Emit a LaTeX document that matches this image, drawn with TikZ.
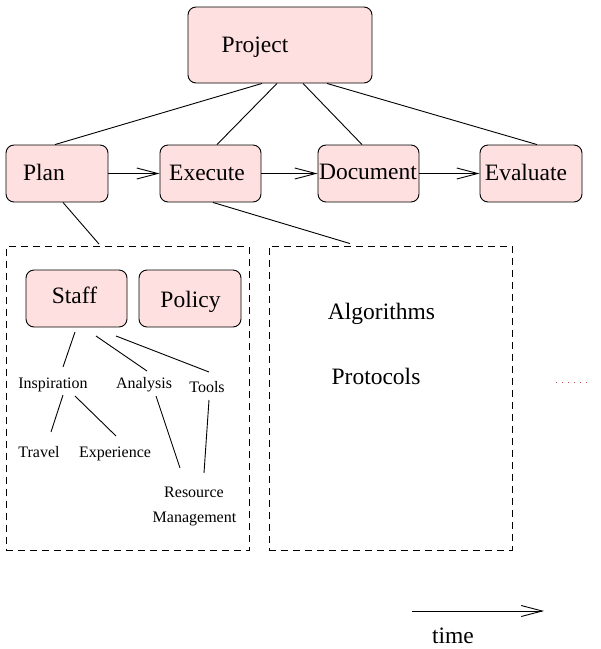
\documentclass[tikz,border=0pt]{standalone}
\usepackage{fontspec}
\setmainfont{Liberation Serif}
\usetikzlibrary{arrows.meta,calc}
\definecolor{boxpink}{RGB}{255,224,224}
\definecolor{dotred}{RGB}{190,80,80}
\tikzset{
  pbox/.style={draw,line width=0.9pt,rounded corners=8pt,fill=boxpink,inner sep=0pt,minimum width=101pt,minimum height=57pt},
  dbox/.style={draw,line width=0.9pt,dash pattern=on 7pt off 5pt,inner sep=0pt,minimum width=243pt,minimum height=304pt},
  big/.style={inner sep=0pt,anchor=base,font=\fontsize{23.5}{28}\selectfont},
  small/.style={inner sep=0pt,anchor=base,font=\fontsize{16}{19}\selectfont},
  conn/.style={line width=0.9pt},
  flow/.style={line width=0.9pt,-{Straight Barb[length=21pt,width=11pt,line width=0.9pt]}}
}
\begin{document}
\begin{tikzpicture}[x=1pt,y=-1pt]
\useasboundingbox (0,0) rectangle (601,649);
% main boxes
\node[pbox,minimum width=184pt,minimum height=76pt] (proj) at (280,45) {};
\node[big] (projtxt) at (255,52) {Project};
\node[pbox,minimum width=102pt] (plan) at (57,173.5) {};
\node[big] (plantxt) at (44,180) {Plan};
\node[pbox] (exec) at (210.5,173.5) {};
\node[big] (exectxt) at (207,180) {Execute};
\node[pbox] (doc) at (368.5,173.5) {};
\node[big] (doctxt) at (368,179) {Document};
\node[pbox,minimum width=102pt] (eval) at (531,173.5) {};
\node[big] (evaltxt) at (526,180) {Evaluate};
% project lines
\draw[conn] ([xshift=-18pt]proj.south) -- ([xshift=-2pt]plan.north);
\draw[conn] ([xshift=-3pt]proj.south) -- ([xshift=6.5pt]exec.north);
\draw[conn] ([xshift=23pt]proj.south) -- ([xshift=-6.5pt]doc.north);
\draw[conn] ([xshift=47pt]proj.south) -- ([xshift=6pt]eval.north);
% flow arrows
\draw[flow] (plan.east) -- (exec.west);
\draw[flow] (exec.east) -- (doc.west);
\draw[flow] (doc.east) -- (eval.west);
% dashed boxes
\node[dbox] (lbox) at (127.5,398.5) {};
\node[dbox] (rbox) at (390.5,398) {};
\draw[conn] ([xshift=6pt]plan.south) -- ([xshift=-28.5pt,yshift=2pt]lbox.north);
\draw[conn] ([xshift=2.5pt]exec.south) -- ([xshift=-40.5pt,yshift=2pt]rbox.north);
% left box content
\node[pbox] (staff) at (76.5,298.5) {};
\node[big] (stafftxt) at (74.5,303) {Staff};
\node[pbox,minimum width=102pt] (policy) at (190,298.5) {};
\node[big] (policytxt) at (190.5,307) {Policy};
\node[small] (insp) at (53,388) {Inspiration};
\node[small] (anal) at (144,388) {Analysis};
\node[small] (tools) at (207,392) {Tools};
\node[small] (travel) at (39,457) {Travel};
\node[small] (exper) at (115,457) {Experience};
\node[small] (res) at (194,497) {Resource};
\node[small] (mgmt) at (194.5,522) {Management};
\draw[conn] ([shift={(-1.5,33.5)}]staff.center) -- ([shift={(10,-21)}]insp.base);
\draw[conn] ([shift={(19.5,37.5)}]staff.center) -- ([shift={(3,-17)}]anal.base);
\draw[conn] ([shift={(39.5,37.5)}]staff.center) -- ([shift={(2,-20)}]tools.base);
\draw[conn] ([shift={(10,7)}]insp.base) -- ([shift={(12,-25)}]travel.base);
\draw[conn] ([shift={(22,8)}]insp.base) -- ([shift={(1,-21)}]exper.base);
\draw[conn] ([shift={(12,8)}]anal.base) -- ([shift={(-14,-29)}]res.base);
\draw[conn] ([shift={(2,8)}]tools.base) -- ([shift={(10,-24)}]res.base);
% right box content
\node[big] (algo) at (381.5,319) {Algorithms};
\node[big] (proto) at (376,384) {Protocols};
% dots
\coordinate (d0) at (556,382);
\coordinate (d1) at (591,382);
\draw[dotred,line width=0.6pt,dash pattern=on 0.8pt off 5.2pt] (d0) -- (d1);
% time arrow
\coordinate (t0) at (412,611);
\coordinate (t1) at (544,611);
\draw[flow] (t0) -- (t1);
\node[big] (time) at (453,643) {time};
\end{tikzpicture}
\end{document}
